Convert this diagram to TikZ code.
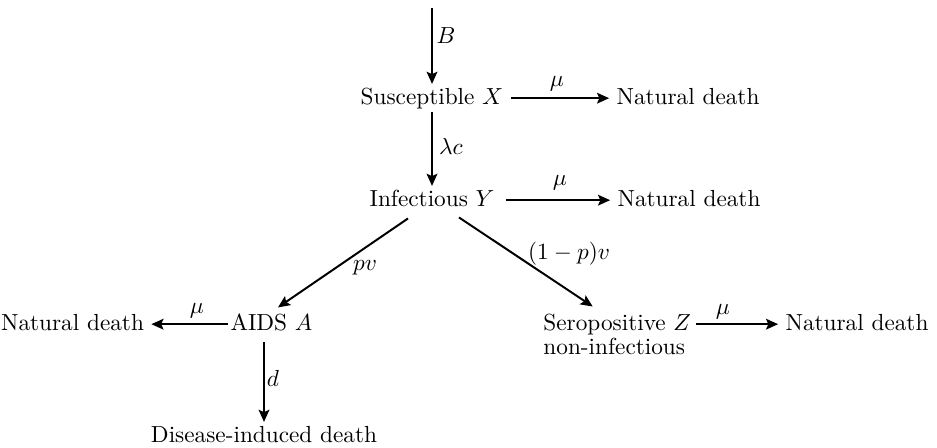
\documentclass[tikz,border=0pt]{standalone}
\usetikzlibrary{arrows.meta,calc}
\begin{document}
\begin{tikzpicture}[x=0.43pt,y=-0.43pt,
  lbl/.style={inner sep=0pt},
  txt/.style={anchor=base, inner xsep=3pt, inner ysep=1.5pt, text height=6.94pt, text depth=1.94pt},
  flow/.style={line width=0.85pt, -{Stealth[length=5.2pt,width=4.6pt,inset=1pt]}}]
\useasboundingbox (0,0) rectangle (937,447);
% states
\node[txt] (X) at (432,104) {Susceptible $X$};
\node[txt] (N1) at (688,104) {Natural death};
\node[txt] (Y) at (432,206) {Infectious $Y$};
\node[txt] (N2) at (689,206) {Natural death};
\node[txt] (A) at (271.5,330) {AIDS $A$};
\node[txt] (N3) at (72.5,330) {Natural death};
\node[txt, anchor=base west] (Z) at (536,330) {Seropositive $Z$};
\node[txt, anchor=base west] (Zb) at (536,354) {non-infectious};
\node[txt] (N4) at (857,330) {Natural death};
\node[txt] (D) at (264,442) {Disease-induced death};
\coordinate (in) at (432,8);
\coordinate (dtop) at (A.south -| D.north);
% connectors
\draw[flow] (in) -- (X.north);
\draw[flow] (X.east) -- (N1.west);
\draw[flow] (X.south) -- (Y.north);
\draw[flow] ($(Y.east)+(4,0)$) -- (N2.west);
\draw[flow] ($(Y.south)+(-24,4)$) -- ($(A.north)+(6.5,-2.5)$);
\draw[flow] ($(Y.south)+(27,3)$) -- ($(Z.north)+(-24.5,-3.4)$);
\draw[flow] ($(A.west)+(5,0)$) -- (N3.east);
\draw[flow] ($(dtop)+(0,4)$) -- (D.north);
\draw[flow] ($(Z.east)+(-2,0)$) -- (N4.west);
% labels
\node[lbl] (lB) at (446,36) {$B$};
\node[lbl] (llc) at (451,146) {$\lambda c$};
\node[lbl] (lm1) at (557,84) {$\mu$};
\node[lbl] (lm2) at (560,183) {$\mu$};
\node[lbl] (lm3) at (197,311) {$\mu$};
\node[lbl] (lm4) at (723,312) {$\mu$};
\node[lbl] (lpv) at (365,268) {$pv$};
\node[lbl] (lpv2) at (569,254) {$(1-p)v$};
\node[lbl] (ld) at (273,378) {$d$};
\end{tikzpicture}
\end{document}
